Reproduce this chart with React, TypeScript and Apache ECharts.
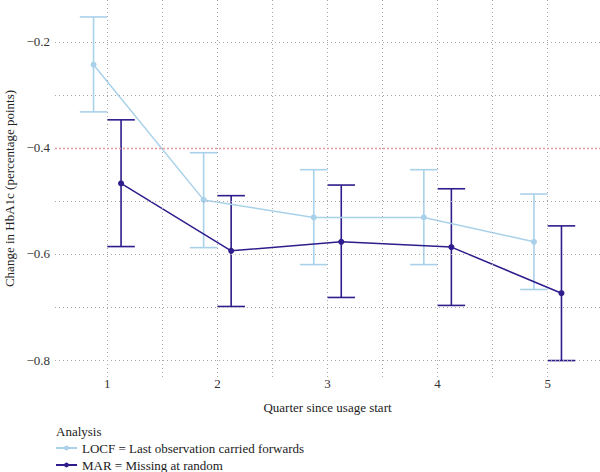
import React, { useEffect, useRef } from "react";
import * as echarts from "echarts";

// Quarters since usage start
const quarters = [1, 2, 3, 4, 5];

// LOCF = last observation carried forwards: estimate and 95% interval
const locfMean = [-0.243, -0.498, -0.531, -0.531, -0.577];
const locfLow = [-0.332, -0.588, -0.62, -0.62, -0.667];
const locfHigh = [-0.153, -0.409, -0.441, -0.441, -0.487];

// MAR = missing at random: estimate and 95% interval
const marMean = [-0.467, -0.594, -0.577, -0.587, -0.674];
const marLow = [-0.586, -0.699, -0.682, -0.697, -0.801];
const marHigh = [-0.347, -0.49, -0.47, -0.477, -0.547];

const yTicks = [-0.8, -0.6, -0.4, -0.2];
const yGrid = [-0.8, -0.7, -0.6, -0.5, -0.4, -0.3, -0.2];
const xGrid = [1, 1.5, 2, 2.5, 3, 3.5, 4, 4.5, 5];
const referenceLine = -0.4;

const seriesNames = ["LOCF = Last observation carried forwards", "MAR = Missing at random"];
const LOCF_COLOR = "#a9d1ea";
const MAR_COLOR = "#2e1d8c";
const DODGE = 0.125;
const CAP_HALF = 0.125;
const FONT = "Liberation Serif";

const fmt = (v: number) => (v < 0 ? "\u2212" + Math.abs(v).toFixed(1) : v.toFixed(1));

function errorBarSeries(name: string, color: string, offset: number, low: number[], high: number[]) {
  return {
    type: "custom",
    name: name + " (interval)",
    silent: true,
    z: 3,
    itemStyle: { color },
    data: quarters.map((q, i) => [q + offset, low[i], high[i]]),
    encode: { x: 0, y: [1, 2] },
    renderItem: (params: any, api: any) => {
      const x = api.value(0);
      const lo = api.coord([x, api.value(1)]);
      const hi = api.coord([x, api.value(2)]);
      const left = api.coord([x - CAP_HALF, api.value(1)])[0];
      const right = api.coord([x + CAP_HALF, api.value(1)])[0];
      const style = { stroke: color, lineWidth: 1.6 };
      return {
        type: "group",
        children: [
          { type: "line", shape: { x1: lo[0], y1: lo[1], x2: hi[0], y2: hi[1] }, style },
          { type: "line", shape: { x1: left, y1: lo[1], x2: right, y2: lo[1] }, style },
          { type: "line", shape: { x1: left, y1: hi[1], x2: right, y2: hi[1] }, style },
        ],
      };
    },
  };
}

export default function App() {
  const ref = useRef<HTMLDivElement>(null);

  useEffect(() => {
    if (!ref.current) return;
    const chart = echarts.init(ref.current, null, { renderer: "svg" });

    const gridStyle = { color: "#a8a8a8", width: 1, type: [1, 3] as any };
    const textBase = { fontFamily: FONT, fontSize: 13, color: "#222" };

    chart.setOption({
      animation: false,
      backgroundColor: "#ffffff",
      textStyle: { fontFamily: FONT },
      grid: { left: 55, right: 0, top: 0, bottom: 95, containLabel: false, outerBoundsMode: "none" },
      title: {
        text: "Analysis",
        left: 56,
        top: 425,
        padding: 0,
        textStyle: { ...textBase, fontWeight: "normal" },
      },
      legend: {
        orient: "vertical",
        left: 55,
        top: 441,
        height: 40,
        padding: 0,
        itemWidth: 21,
        itemHeight: 6,
        itemGap: 3,
        data: seriesNames,
        textStyle: { ...textBase, lineHeight: 14 },
      },
      xAxis: {
        type: "value",
        min: 0.525,
        max: 5.475,
        name: "Quarter since usage start",
        nameLocation: "middle",
        nameGap: 24,
        nameTextStyle: textBase,
        axisLine: { show: false },
        axisTick: { show: false },
        splitLine: { show: false },
        axisLabel: {
          customValues: quarters,
          formatter: (v: number) => String(v),
          margin: 0,
          fontFamily: FONT,
          fontSize: 13,
          color: "#333",
        },
      },
      yAxis: {
        type: "value",
        min: -0.832,
        max: -0.121,
        name: "Change in HbA1c (percentage points)",
        nameLocation: "middle",
        nameGap: 34,
        nameTextStyle: textBase,
        axisLine: { show: false },
        axisTick: { show: false },
        splitLine: { show: false },
        axisLabel: {
          customValues: yTicks,
          formatter: (v: number) => fmt(v),
          margin: 5,
          fontFamily: FONT,
          fontSize: 13,
          color: "#333",
        },
      },
      series: [
        {
          type: "line",
          name: "grid",
          data: [],
          silent: true,
          markLine: {
            silent: true,
            symbol: "none",
            label: { show: false },
            lineStyle: gridStyle,
            data: [
              ...yGrid.filter((v) => v !== referenceLine).map((v) => ({ yAxis: v })),
              ...xGrid.map((v) => ({ xAxis: v })),
            ],
          },
        },
        {
          type: "line",
          name: "reference",
          data: [],
          silent: true,
          z: 2,
          markLine: {
            silent: true,
            symbol: "none",
            label: { show: false },
            lineStyle: { color: "#e39a9a", width: 1.4, type: [2, 2] },
            data: [{ yAxis: referenceLine }],
          },
        },
        {
          type: "line",
          name: seriesNames[0],
          data: quarters.map((q, i) => [q - DODGE, locfMean[i]]),
          symbol: "circle",
          symbolSize: 6,
          z: 4,
          itemStyle: { color: LOCF_COLOR },
          lineStyle: { color: LOCF_COLOR, width: 1.5 },
        },
        {
          type: "line",
          name: seriesNames[1],
          data: quarters.map((q, i) => [q + DODGE, marMean[i]]),
          symbol: "circle",
          symbolSize: 6,
          z: 4,
          itemStyle: { color: MAR_COLOR },
          lineStyle: { color: MAR_COLOR, width: 1.5 },
        },
        errorBarSeries(seriesNames[0], LOCF_COLOR, -DODGE, locfLow, locfHigh),
        errorBarSeries(seriesNames[1], MAR_COLOR, DODGE, marLow, marHigh),
      ],
    });

    return () => chart.dispose();
  }, []);

  return <div ref={ref} style={{ width: 600, height: 472, position: "absolute", left: 0, top: 0 }} />;
}
